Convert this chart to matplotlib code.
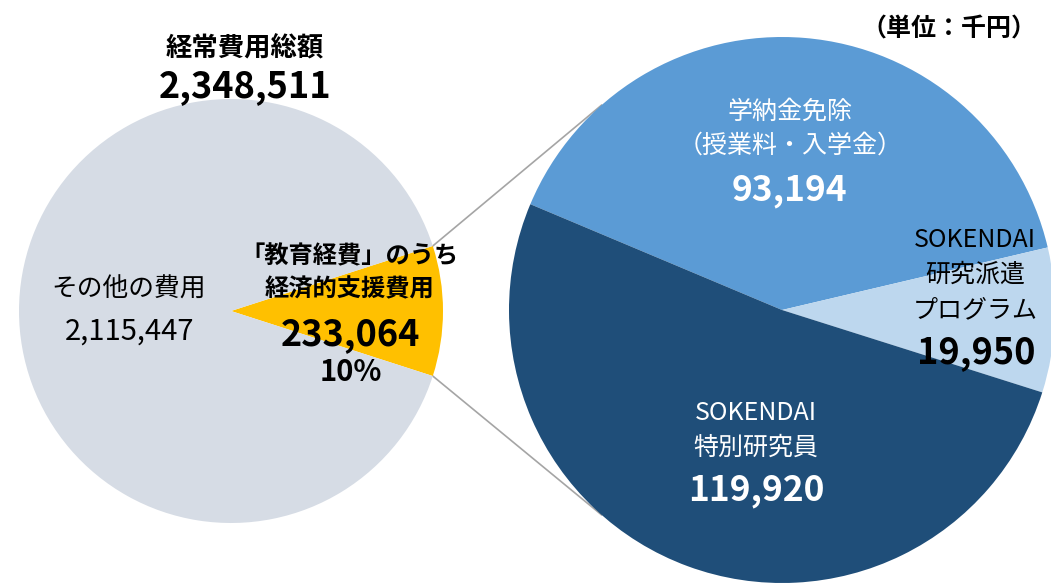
import numpy as np
import matplotlib.pyplot as plt

plt.rcParams['font.family'] = ['Noto Sans CJK JP', 'DejaVu Sans']

# data (unit: thousand yen)
total_label = "経常費用総額"
total_value = 2348511
left_labels = ["「教育経費」のうち\n経済的支援費用", "その他の費用"]
left_values = [233064, 2115447]
left_colors = ["#FFC000", "#D6DCE5"]

right_labels = ["学納金免除\n（授業料・入学金）", "SOKENDAI\n研究派遣\nプログラム", "SOKENDAI\n特別研究員"]
right_values = [93194, 19950, 119920]
right_colors = ["#5B9BD5", "#BDD7EE", "#1F4E79"]

W, H = 1051, 584
fig = plt.figure(figsize=(W / 100, H / 100), dpi=100)
ax = fig.add_axes([0, 0, 1, 1])

# layout in pixel units (y measured up from bottom)
lc, lr = (231, H - 311), 212
rc, rr = (782, H - 310), 273

# left pie: small slice centred on the right side
frac = left_values[0] / sum(left_values)
ax.pie(left_values, colors=left_colors, center=lc, radius=lr,
       startangle=-frac * 180, counterclock=True,
       wedgeprops=dict(linewidth=0))

# right pie: breakdown of the small slice
ax.pie(right_values, colors=right_colors, center=rc, radius=rr,
       startangle=157.2, counterclock=False,
       wedgeprops=dict(linewidth=0))

# connector lines from the yellow slice edges to the right pie
half = np.deg2rad(frac * 180)
for sgn in (1, -1):
    x0 = lc[0] + lr * np.cos(half)
    y0 = lc[1] + sgn * lr * np.sin(half)
    a1 = np.deg2rad(sgn * 131.4)
    x1 = rc[0] + rr * np.cos(a1)
    y1 = rc[1] + rr * np.sin(a1)
    ax.plot([x0, x1], [y0, y1], color="#A5A5A5", lw=1.2, zorder=0.5)

ax.set_xlim(0, W)
ax.set_ylim(0, H)
ax.axis("off")

def py(y):
    return H - y

# titles
ax.text(245, py(49), total_label, ha="center", va="center", fontsize=19, fontweight="bold")
ax.text(245, py(87), f"{total_value:,}", ha="center", va="center", fontsize=26, fontweight="bold")
ax.text(949, py(29), "（単位：千円）", ha="center", va="center", fontsize=18, fontweight="bold")

# left pie labels
ax.text(350, py(273), left_labels[0], ha="center", va="center", fontsize=17.5,
        fontweight="bold", linespacing=1.45)
ax.text(350, py(335), f"{left_values[0]:,}", ha="center", va="center", fontsize=26, fontweight="bold")
ax.text(351, py(372), f"{frac:.0%}", ha="center", va="center", fontsize=21, fontweight="bold")
ax.text(129, py(290), left_labels[1], ha="center", va="center", fontsize=18.5)
ax.text(130, py(332), f"{left_values[1]:,}", ha="center", va="center", fontsize=21)

# right pie labels
ax.text(790, py(129), right_labels[0], ha="center", va="center", fontsize=18,
        color="white", linespacing=1.4)
ax.text(789, py(190), f"{right_values[0]:,}", ha="center", va="center", fontsize=25.5,
        fontweight="bold", color="white")
ax.text(975, py(275), right_labels[1], ha="center", va="center", fontsize=18,
        color="black", linespacing=1.45)
ax.text(976, py(353), f"{right_values[1]:,}", ha="center", va="center", fontsize=26,
        fontweight="bold", color="black")
ax.text(756, py(430), right_labels[2], ha="center", va="center", fontsize=18,
        color="white", linespacing=1.45)
ax.text(756, py(490), f"{right_values[2]:,}", ha="center", va="center", fontsize=25.5,
        fontweight="bold", color="white")

fig.savefig("out.png", dpi=100)
